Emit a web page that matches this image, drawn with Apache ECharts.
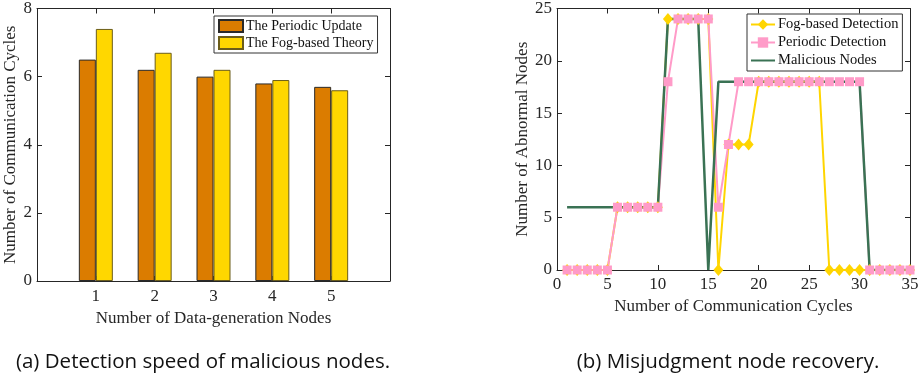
<!DOCTYPE html>
<html>
<head>
<meta charset="utf-8">
<script src="https://cdn.jsdelivr.net/npm/echarts@6/dist/echarts.min.js"></script>
<style>
  html, body { margin: 0; padding: 0; background: #fff; }
  #main { width: 922px; height: 388px; }
</style>
</head>
<body>
<div id="main"></div>
<script>
// (a) bar chart data
const nodeCounts = [1, 2, 3, 4, 5]
const periodicUpdate = [6.5, 6.2, 6.0, 5.8, 5.7]
const fogTheory = [7.4, 6.7, 6.2, 5.9, 5.6]

// (b) line chart data
const cycles = [1, 2, 3, 4, 5, 6, 7, 8, 9, 10, 11, 12, 13, 14, 15, 16, 17, 18, 19, 20,
  21, 22, 23, 24, 25, 26, 27, 28, 29, 30, 31, 32, 33, 34, 35]
const fogDetection = [0, 0, 0, 0, 0, 6, 6, 6, 6, 6, 24, 24, 24, 24, 24, 0, 12, 12, 12, 18,
  18, 18, 18, 18, 18, 18, 0, 0, 0, 0, 0, 0, 0, 0, 0]
const periodicDetection = [0, 0, 0, 0, 0, 6, 6, 6, 6, 6, 18, 24, 24, 24, 24, 6, 12, 18, 18, 18,
  18, 18, 18, 18, 18, 18, 18, 18, 18, 18, 0, 0, 0, 0, 0]
const maliciousNodes = [6, 6, 6, 6, 6, 6, 6, 6, 6, 6, 24, 24, 24, 24, 0, 18, 18, 18, 18, 18,
  18, 18, 18, 18, 18, 18, 18, 18, 18, 18, 0, 0, 0, 0, 0]

const serif = '"Liberation Serif", "Times New Roman", serif'
const axisColor = '#262626'

function pair(xs, ys) {
  return xs.map((x, i) => [x, ys[i]])
}

// shared axis look: ticks inside, box frame
function baseAxis(extra) {
  return Object.assign({
    axisLine: {show: true, onZero: false, lineStyle: {color: axisColor, width: 1}},
    axisTick: {show: true, inside: true, length: 5, lineStyle: {color: axisColor}},
    splitLine: {show: false},
    axisLabel: {color: axisColor, fontFamily: serif, fontSize: 17},
    nameTextStyle: {color: axisColor, fontFamily: serif, fontSize: 17}
  }, extra)
}

let myChart = echarts.init(document.getElementById('main'))

let option = {
  animation: false,
  backgroundColor: '#fff',
  grid: [
    {left: 37, top: 6, width: 353, height: 275},
    {left: 557, top: 3, width: 353, height: 267}
  ],
  xAxis: [
    baseAxis({
      gridIndex: 0, type: 'value', min: 0, max: 6, interval: 1, position: 'bottom',
      name: 'Number of Data-generation Nodes', nameLocation: 'middle', nameGap: 22,
      axisLabel: {color: axisColor, fontFamily: serif, fontSize: 17, margin: 7,
        formatter: v => nodeCounts.includes(v) ? String(v) : ''}
    }),
    baseAxis({
      gridIndex: 0, type: 'value', min: 0, max: 6, interval: 1, position: 'top',
      axisLabel: {show: false}
    }),
    baseAxis({
      gridIndex: 1, type: 'value', min: 0, max: 35, interval: 5, position: 'bottom',
      name: 'Number of Communication Cycles', nameLocation: 'middle', nameGap: 28,
      axisLabel: {color: axisColor, fontFamily: serif, fontSize: 17, margin: 6}
    }),
    baseAxis({
      gridIndex: 1, type: 'value', min: 0, max: 35, interval: 5, position: 'top',
      axisLabel: {show: false}
    })
  ],
  yAxis: [
    baseAxis({
      gridIndex: 0, type: 'value', min: 0, max: 8, interval: 2, position: 'left',
      name: 'Number of Communication Cycles', nameLocation: 'middle', nameGap: 18,
      axisLabel: {color: axisColor, fontFamily: serif, fontSize: 17, margin: 5}
    }),
    baseAxis({
      gridIndex: 0, type: 'value', min: 0, max: 8, interval: 2, position: 'right',
      axisLabel: {show: false}
    }),
    baseAxis({
      gridIndex: 1, type: 'value', min: 0, max: 25, interval: 5, position: 'left',
      name: 'Number of Abnormal Nodes', nameLocation: 'middle', nameGap: 26,
      axisLabel: {color: axisColor, fontFamily: serif, fontSize: 17, margin: 5}
    }),
    baseAxis({
      gridIndex: 1, type: 'value', min: 0, max: 25, interval: 5, position: 'right',
      axisLabel: {show: false}
    })
  ],
  legend: [
    {
      data: ['The Periodic Update', 'The Fog-based Theory'],
      icon: 'rect',
      orient: 'vertical', left: 214, top: 16,
      padding: [3, 4, 3, 4], itemGap: 3, itemWidth: 24, itemHeight: 12,
      borderColor: '#333', borderWidth: 1, backgroundColor: '#fff',
      textStyle: {color: '#111', fontFamily: serif, fontSize: 14, padding: [0, 0, 0, -2]}
    },
    {
      data: [
        'Fog-based Detection',
        'Periodic Detection',
        // no marker on the malicious line
        {name: 'Malicious Nodes', itemStyle: {opacity: 0, color: 'transparent', borderColor: 'transparent'}}
      ],
      orient: 'vertical', left: 747, top: 14,
      padding: [3, 4, 3, 3], itemGap: 3, itemWidth: 24, itemHeight: 13,
      borderColor: '#333', borderWidth: 1, backgroundColor: '#fff',
      textStyle: {color: '#111', fontFamily: serif, fontSize: 14.5, padding: [0, 0, 0, -2]}
    }
  ],
  series: [
    {
      name: 'The Periodic Update', type: 'bar', xAxisIndex: 0, yAxisIndex: 0,
      barWidth: 17, barGap: '0%',
      itemStyle: {color: '#DB7C00', borderColor: '#2a2a2a', borderWidth: 1},
      data: pair(nodeCounts, periodicUpdate)
    },
    {
      name: 'The Fog-based Theory', type: 'bar', xAxisIndex: 0, yAxisIndex: 0,
      barWidth: 17, barGap: '0%',
      itemStyle: {color: '#FFD700', borderColor: '#6b5d1a', borderWidth: 1},
      data: pair(nodeCounts, fogTheory)
    },
    {
      name: 'Fog-based Detection', type: 'line', xAxisIndex: 2, yAxisIndex: 2,
      symbol: 'diamond', symbolSize: [10, 12],
      lineStyle: {color: '#FFD500', width: 2},
      itemStyle: {color: '#FFD500'},
      data: pair(cycles, fogDetection)
    },
    {
      name: 'Periodic Detection', type: 'line', xAxisIndex: 2, yAxisIndex: 2,
      symbol: 'rect', symbolSize: 9,
      lineStyle: {color: '#FF9BC8', width: 2},
      itemStyle: {color: '#FF9BC8'},
      data: pair(cycles, periodicDetection)
    },
    {
      name: 'Malicious Nodes', type: 'line', xAxisIndex: 2, yAxisIndex: 2,
      symbol: 'none',
      lineStyle: {color: '#3A7254', width: 2.5},
      itemStyle: {color: '#3A7254'},
      data: pair(cycles, maliciousNodes)
    }
  ],
  graphic: [
    {
      type: 'text', x: 203, y: 362,
      style: {text: '(a) Detection speed of malicious nodes.', textAlign: 'center', textVerticalAlign: 'middle',
        fill: '#111', font: '20.5px "Open Sans", sans-serif'}
    },
    {
      type: 'text', x: 728, y: 362,
      style: {text: '(b) Misjudgment node recovery.', textAlign: 'center', textVerticalAlign: 'middle',
        fill: '#111', font: '20.5px "Open Sans", sans-serif'}
    }
  ]
}

myChart.setOption(option)
</script>
</body>
</html>
